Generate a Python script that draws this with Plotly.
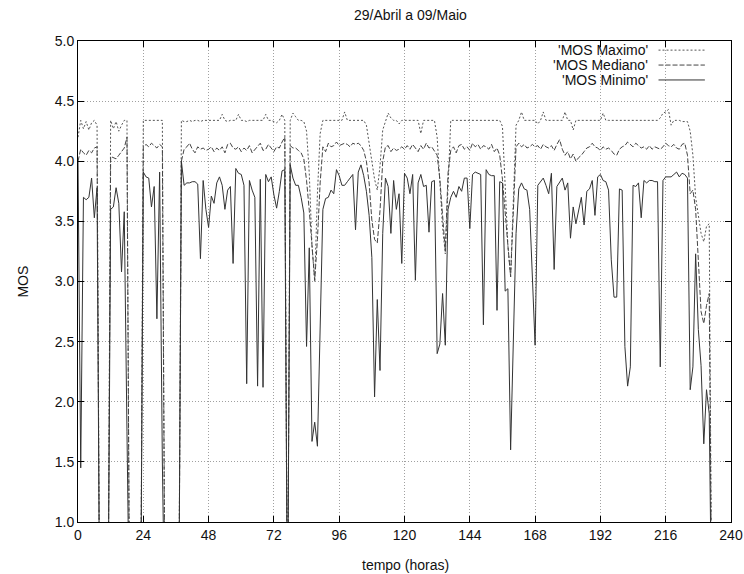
import plotly.graph_objects as go

# hours since start (29/Abril)
horas = list(range(234))

mos_maximo = [
    4.20, 4.34, 4.27, 4.33, 4.26, 4.32, 4.34, 4.30, 0, 0,
    0, 0, 4.34, 4.27, 4.33, 4.25, 4.30, 4.34, 4.34, 0,
    0, 0, 0, 0, 4.34, 4.34, 4.34, 4.34, 4.34, 4.34,
    4.34, 4.34, 0, 0, 0, 0, 0, 0, 4.34, 4.33,
    4.33, 4.34, 4.33, 4.34, 4.34, 4.33, 4.34, 4.34, 4.34, 4.34,
    4.34, 4.34, 4.34, 4.39, 4.34, 4.33, 4.34, 4.34, 4.34, 4.39,
    4.34, 4.34, 4.33, 4.34, 4.34, 4.34, 4.34, 4.34, 4.34, 4.39,
    4.34, 4.34, 4.33, 4.32, 4.34, 4.39, 4.34, 0, 4.34, 4.40,
    4.37, 4.34, 4.34, 4.33, 4.25, 3.90, 3.30, 3.00, 3.73, 4.23,
    4.34, 4.34, 4.34, 4.34, 4.34, 4.34, 4.34, 4.34, 4.41, 4.34,
    4.34, 4.34, 4.34, 4.34, 4.34, 4.34, 4.30, 4.15, 4.00, 3.85,
    3.76, 3.96, 4.26, 4.34, 4.40, 4.36, 4.34, 4.34, 4.31, 4.34,
    4.34, 4.34, 4.34, 4.34, 4.34, 4.34, 4.23, 4.34, 4.34, 4.34,
    4.34, 4.34, 4.20, 3.80, 3.45, 3.23, 3.85, 4.34, 4.34, 4.34,
    4.34, 4.34, 4.34, 4.34, 4.34, 4.34, 4.34, 4.34, 4.34, 4.34,
    4.34, 4.34, 4.34, 4.34, 4.34, 4.34, 4.29, 3.75, 3.30, 3.04,
    3.75, 4.30, 4.34, 4.41, 4.34, 4.34, 4.34, 4.34, 4.34, 4.31,
    4.34, 4.41, 4.34, 4.34, 4.34, 4.34, 4.34, 4.34, 4.34, 4.41,
    4.34, 4.34, 4.26, 4.34, 4.34, 4.34, 4.34, 4.34, 4.34, 4.34,
    4.34, 4.34, 4.34, 4.40, 4.34, 4.34, 4.34, 4.34, 4.34, 4.34,
    4.34, 4.34, 4.34, 4.34, 4.34, 4.34, 4.34, 4.34, 4.34, 4.34,
    4.34, 4.34, 4.34, 4.34, 4.36, 4.40, 4.41, 4.43, 4.30, 4.34,
    4.34, 4.34, 4.33, 4.33, 4.33, 4.25, 4.05, 3.70, 3.55, 3.40,
    3.33, 3.46, 3.48, 0,
]

mos_mediano = [
    4.00, 4.10, 4.07, 4.05, 4.09, 4.07, 4.11, 4.12, 0, 0,
    0, 0, 4.04, 4.03, 4.02, 4.05, 4.08, 4.11, 4.20, 0,
    0, 0, 0, 0, 4.12, 4.14, 4.12, 4.15, 4.13, 4.11,
    4.14, 4.12, 0, 0, 0, 0, 0, 0, 4.00, 4.10,
    4.12, 4.15, 4.10, 4.07, 4.12, 4.10, 4.11, 4.09, 4.10, 4.12,
    4.08, 4.11, 4.09, 4.12, 4.07, 4.14, 4.15, 4.11, 4.10, 4.12,
    4.08, 4.11, 4.09, 4.13, 4.07, 4.10, 4.12, 4.15, 4.09, 4.10,
    4.14, 4.11, 4.08, 4.12, 4.11, 4.16, 4.20, 0, 4.13, 4.11,
    4.11, 4.09, 4.07, 4.02, 3.84, 3.59, 3.26, 3.01, 3.35, 3.82,
    4.12, 4.08, 4.15, 4.12, 4.13, 4.16, 4.13, 4.14, 4.15, 4.14,
    4.12, 4.15, 4.14, 4.15, 4.13, 4.09, 4.00, 3.82, 3.51, 3.35,
    3.32, 3.59, 4.00, 4.12, 4.13, 4.08, 4.11, 4.09, 4.10, 4.12,
    4.10, 4.13, 4.10, 4.14, 4.11, 4.08, 4.13, 4.10, 4.15, 4.11,
    4.12, 4.08, 4.05, 3.85, 3.55, 3.25, 3.90, 4.09, 4.12, 4.07,
    4.13, 4.14, 4.10, 4.12, 4.09, 4.15, 4.12, 4.14, 4.10, 4.13,
    4.12, 4.10, 4.14, 4.08, 4.11, 4.05, 3.85, 3.55, 3.30, 3.04,
    3.65, 4.12, 4.15, 4.12, 4.14, 4.11, 4.12, 4.14, 4.12, 4.13,
    4.10, 4.14, 4.12, 4.11, 4.13, 4.09, 4.14, 4.18, 4.10, 4.05,
    4.08, 4.02, 4.06, 4.00, 4.03, 4.05, 4.08, 4.11, 4.12, 4.15,
    4.12, 4.11, 4.09, 4.12, 4.10, 4.11, 4.09, 4.06, 4.05, 4.10,
    4.12, 4.13, 4.16, 4.14, 4.12, 4.15, 4.13, 4.11, 4.12, 4.10,
    4.13, 4.10, 4.12, 4.11, 4.10, 4.12, 4.15, 4.13, 4.12, 4.14,
    4.11, 4.10, 4.14, 4.15, 4.05, 3.73, 3.76, 3.60, 3.20, 2.75,
    2.65, 2.80, 2.90, 0,
]

mos_minimo = [
    4.00, 1.45, 3.70, 3.68, 3.70, 3.86, 3.53, 3.78, 0, 0,
    0, 0, 3.60, 3.62, 3.78, 3.65, 3.08, 3.58, 1.75, 0,
    0, 0, 0, 0, 3.91, 3.87, 3.86, 3.62, 3.79, 2.69,
    3.91, 1.50, 0, 0, 0, 0, 0, 0, 4.00, 3.80,
    3.82, 3.82, 3.83, 3.83, 3.81, 3.19, 3.84, 3.60, 3.45, 3.71,
    3.65, 3.82, 3.87, 3.80, 3.60, 3.76, 3.79, 3.15, 3.94, 3.90,
    3.89, 3.80, 2.15, 3.84, 3.76, 3.70, 2.13, 3.85, 2.12, 3.89,
    3.83, 3.87, 3.72, 3.61, 3.75, 3.92, 3.93, 0, 3.97, 3.86,
    3.80, 3.80, 3.70, 3.57, 2.46, 3.28, 1.67, 1.83, 1.63, 2.70,
    3.60, 3.69, 3.70, 3.76, 3.73, 3.93, 3.88, 3.80, 3.80, 3.83,
    3.86, 3.89, 3.43, 3.91, 3.97, 3.88, 3.75, 3.55, 3.20, 2.04,
    2.85, 2.26, 3.40, 3.86, 3.79, 3.40, 3.84, 3.60, 3.73, 3.15,
    3.90, 3.86, 3.73, 3.89, 3.01, 3.82, 3.89, 3.79, 3.80, 3.41,
    3.83, 3.84, 2.40, 2.48, 2.90, 2.47, 3.60, 3.70, 3.75, 3.70,
    3.79, 3.75, 3.86, 3.86, 3.44, 3.89, 3.91, 3.90, 3.89, 2.64,
    3.93, 3.89, 3.88, 3.88, 2.76, 3.83, 3.82, 2.92, 2.94, 1.60,
    2.60, 3.40, 3.77, 3.82, 3.77, 3.76, 3.60, 3.10, 2.47, 3.80,
    3.83, 3.86, 3.80, 3.73, 3.90, 3.10, 3.79, 3.82, 3.86, 3.76,
    3.82, 3.36, 3.62, 3.48, 3.60, 3.70, 3.47, 3.75, 3.77, 3.84,
    3.55, 3.87, 3.89, 3.84, 3.83, 3.76, 3.18, 2.87, 2.87, 3.77,
    3.76, 2.46, 2.13, 2.29, 3.80, 3.79, 3.82, 3.53, 3.84, 3.82,
    3.84, 3.84, 3.83, 3.83, 2.29, 3.84, 3.87, 3.87, 3.87, 3.89,
    3.91, 3.87, 3.90, 3.89, 3.86, 2.10, 2.29, 3.23, 2.60, 2.30,
    1.65, 2.10, 1.90, 0,
]

x_ticks = [0, 24, 48, 72, 96, 120, 144, 168, 192, 216, 240]
y_ticks = [1.0, 1.5, 2.0, 2.5, 3.0, 3.5, 4.0, 4.5, 5.0]

series_names = ["'MOS Maximo'", "'MOS Mediano'", "'MOS Minimo'"]
series_values = [mos_maximo, mos_mediano, mos_minimo]
series_dash = ["2px,2px", "5px,2px", "solid"]
series_color = ["#555555", "#444444", "#333333"]

FONT = "Liberation Sans, Arial, sans-serif"

fig = go.Figure()
for name, vals, dash, col in zip(series_names, series_values, series_dash, series_color):
    fig.add_trace(go.Scatter(
        x=horas, y=vals, mode="lines", name=name,
        line=dict(color=col, width=1, dash=dash),
        showlegend=False,
    ))

# gnuplot-style key: text right-aligned, sample line to the right
key_y = [0.981, 0.950, 0.919]
for name, dash, col, ky in zip(series_names, series_dash, series_color, key_y):
    fig.add_annotation(x=0.876, y=ky, xref="paper", yref="paper",
                       text=name, showarrow=False, xanchor="right", yanchor="middle",
                       font=dict(family=FONT, size=14, color="#111111"))
    fig.add_shape(type="line", xref="paper", yref="paper",
                  x0=0.889, x1=0.960, y0=ky, y1=ky,
                  line=dict(color=col, width=1, dash=dash))

fig.add_annotation(x=0.509, y=1.054, xref="paper", yref="paper",
                   text="29/Abril a 09/Maio", showarrow=False,
                   xanchor="center", yanchor="middle",
                   font=dict(family=FONT, size=14, color="#111111"))
fig.add_annotation(x=0.502, y=-0.0894, xref="paper", yref="paper",
                   text="tempo (horas)", showarrow=False,
                   xanchor="center", yanchor="middle",
                   font=dict(family=FONT, size=14, color="#111111"))
fig.add_annotation(x=-0.0856, y=0.5, xref="paper", yref="paper",
                   text="MOS", showarrow=False, textangle=-90,
                   xanchor="center", yanchor="middle",
                   font=dict(family=FONT, size=14, color="#111111"))

axis_common = dict(
    showline=True, linecolor="#000000", linewidth=1, mirror="ticks",
    ticks="inside", ticklen=6, tickcolor="#000000", tickwidth=1,
    showgrid=True, gridcolor="#a0a0a0", griddash="1px,2px", gridwidth=1,
    zeroline=False, ticklabeloverflow="allow", automargin=False,
    tickfont=dict(family=FONT, size=14, color="#111111"),
)

fig.update_xaxes(range=[0, 240], tickvals=x_ticks,
                 ticktext=[str(t) for t in x_ticks], **axis_common)
fig.update_yaxes(range=[1, 5], tickvals=y_ticks,
                 ticktext=[f"{t:.1f}" for t in y_ticks], **axis_common)

fig.update_layout(
    width=744, height=574,
    margin=dict(l=78, r=13, t=41, b=52, autoexpand=False),
    paper_bgcolor="#ffffff", plot_bgcolor="#ffffff",
    font=dict(family=FONT, size=14, color="#111111"),
)

fig.write_html("out.html",
               config={"displayModeBar": False},
               post_script="document.body.style.margin='0px';document.body.style.overflow='hidden';")
